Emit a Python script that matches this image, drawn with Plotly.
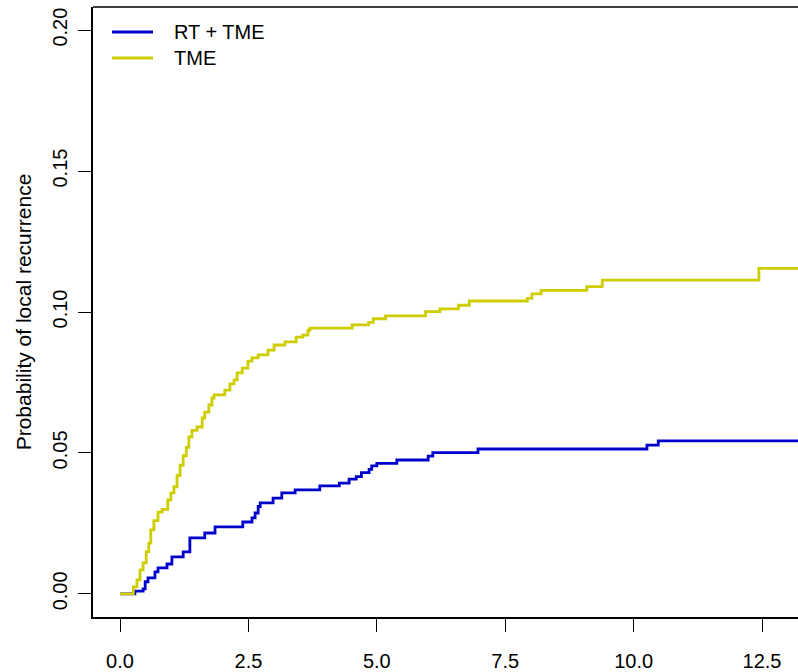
import plotly.graph_objects as go

# Cumulative incidence step data (time in years, probability)
rt_tme_time = [0.0, 0.29, 0.45, 0.49, 0.545, 0.68, 0.74, 0.915, 1.01, 1.23, 1.36, 1.65, 1.85,
               2.39, 2.57, 2.63, 2.69, 2.73, 2.98, 3.15, 3.41, 3.89, 4.27, 4.46, 4.60, 4.70,
               4.85, 4.90, 5.00, 5.39, 6.00, 6.09, 6.97, 10.26, 10.48, 13.3]
rt_tme_prob = [0.0, 0.001, 0.0018, 0.0043, 0.0057, 0.0078, 0.0092, 0.0106, 0.0131, 0.0149, 0.0199,
               0.0216, 0.0238, 0.0255, 0.0270, 0.0287, 0.0310, 0.0323, 0.0340, 0.0358, 0.0369,
               0.0383, 0.0393, 0.0407, 0.0416, 0.0430, 0.0442, 0.0454, 0.0463, 0.0475, 0.0489,
               0.0501, 0.0514, 0.0528, 0.0543, 0.0543]

tme_time = [0.0, 0.26, 0.33, 0.39, 0.45, 0.51, 0.56, 0.60, 0.66, 0.74, 0.82, 0.93, 0.99, 1.05,
            1.11, 1.17, 1.23, 1.29, 1.34, 1.40, 1.50, 1.60, 1.65, 1.73, 1.79, 1.83, 2.04, 2.14,
            2.22, 2.28, 2.38, 2.49, 2.57, 2.69, 2.88, 3.00, 3.21, 3.43, 3.56, 3.66, 3.70, 4.52,
            4.84, 4.93, 5.17, 5.95, 6.23, 6.59, 6.80, 7.93, 8.02, 8.20, 9.09, 9.39, 12.44, 13.3]
tme_prob = [0.0, 0.0025, 0.005, 0.0085, 0.011, 0.015, 0.018, 0.0227, 0.026, 0.029, 0.030, 0.0333,
            0.0358, 0.038, 0.042, 0.0457, 0.049, 0.052, 0.0557, 0.058, 0.0592, 0.0624, 0.0645,
            0.067, 0.0695, 0.0706, 0.0723, 0.0745, 0.0759, 0.0784, 0.0801, 0.0826, 0.0837,
            0.0848, 0.0865, 0.0883, 0.0894, 0.0911, 0.0918, 0.0936, 0.0943, 0.0954, 0.0963,
            0.0976, 0.0986, 0.1001, 0.1011, 0.1024, 0.1039, 0.1048, 0.1064, 0.1077, 0.1090,
            0.1113, 0.1155, 0.1155]

series_names = ["RT + TME", "TME"]
series_colors = ["#0000CD", "#CDCD00"]

x_ticks = [0.0, 2.5, 5.0, 7.5, 10.0, 12.5]
x_ticktext = ["0.0", "2.5", "5.0", "7.5", "10.0", "12.5"]
y_ticks = [0.0, 0.05, 0.10, 0.15, 0.20]
y_ticktext = ["0.00", "0.05", "0.10", "0.15", "0.20"]

FONT = "Liberation Sans, Arial, sans-serif"
W, H = 798, 672
ML, MR, MT, MB = 93, 0, 7, 55
PW, PH = W - ML - MR, H - MT - MB

fig = go.Figure()
for t, p, name, col in [(rt_tme_time, rt_tme_prob, series_names[0], series_colors[0]),
                        (tme_time, tme_prob, series_names[1], series_colors[1])]:
    fig.add_trace(go.Scatter(x=t, y=p, mode="lines", name=name, showlegend=False,
                             line=dict(color=col, width=2.8, shape="hv")))

# R-style legend (top-left, no box); positions given in pixels
shapes = [dict(type="line", xref="paper", yref="paper", x0=0, x1=1, y0=1, y1=1,
               line=dict(color="black", width=1.5))]
annotations = []
for i, (name, col) in enumerate(zip(series_names, series_colors)):
    ypx = 32 + 26 * i
    yp = 1 - (ypx - MT) / PH
    shapes.append(dict(type="line", xref="paper", yref="paper",
                       x0=(112 - ML) / PW, x1=(153 - ML) / PW, y0=yp, y1=yp,
                       line=dict(color=col, width=3)))
    annotations.append(dict(text=name, xref="paper", yref="paper", x=(172 - ML) / PW, y=yp,
                            xanchor="left", yanchor="middle", showarrow=False,
                            font=dict(family=FONT, size=20, color="black")))

fig.update_layout(
    width=W, height=H,
    margin=dict(l=ML, r=MR, t=MT, b=MB),
    paper_bgcolor="white", plot_bgcolor="white",
    font=dict(family=FONT, size=20, color="black"),
    showlegend=False,
    hovermode=False,
    xaxis=dict(range=[-0.526, 13.201], tickvals=x_ticks, ticktext=x_ticktext, automargin=False,
               showgrid=False, zeroline=False, showline=True, linecolor="black", linewidth=1.5,
               ticks="outside", ticklen=13, tickwidth=1.3, tickcolor="black",
               ticklabelstandoff=12),
    yaxis=dict(range=[-0.0082, 0.2082], tickvals=y_ticks, ticktext=y_ticktext, automargin=False,
               showgrid=False, zeroline=False, showline=True, linecolor="black", linewidth=1.5,
               ticks="outside", ticklen=13, tickwidth=1.3, tickcolor="black", tickangle=-90,
               ticklabelstandoff=3,
               title=dict(text="Probability of local recurrence", font=dict(size=21), standoff=12)),
    shapes=shapes,
    annotations=annotations,
)

fig.write_html(
    "out.html",
    config={"displayModeBar": False},
    post_script="document.body.style.margin='0';document.body.style.overflow='hidden';",
)
